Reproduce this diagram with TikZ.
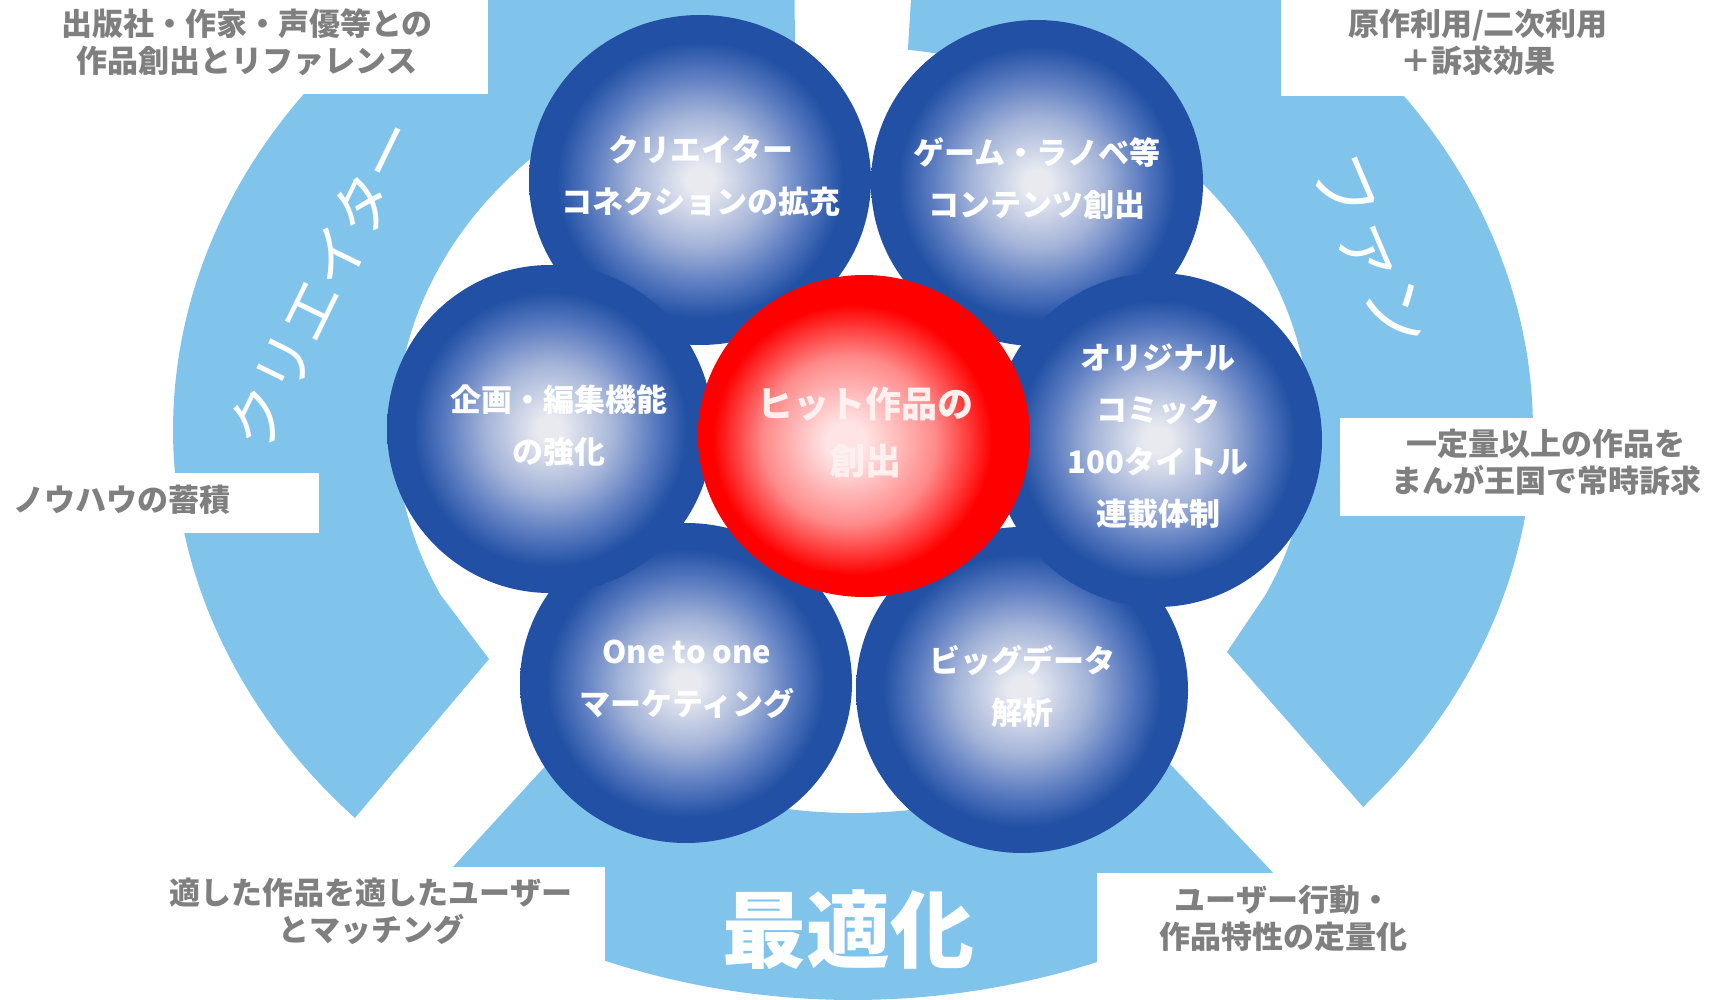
\documentclass[tikz,border=0pt]{standalone}
\usepackage{fontspec}
\setmainfont{Noto Sans CJK JP}
\definecolor{arcblue}{HTML}{80C4EC}
\definecolor{labelgray}{HTML}{7F7F7F}
\definecolor{bdark}{HTML}{2150A4}
\definecolor{bmid}{HTML}{5A7BC0}
\definecolor{blite}{HTML}{A3B3D8}
\definecolor{bcenter}{HTML}{E8EAF0}
\definecolor{rcenter}{HTML}{FFE4E4}
\definecolor{rmid}{HTML}{FF8A8A}
\definecolor{rdark}{HTML}{FF0000}
\definecolor{redtextcol}{HTML}{FFF0F0}
\pgfdeclareradialshading{bubble}{\pgfpoint{0bp}{0bp}}{color(0bp)=(bcenter); color(2bp)=(bcenter); color(10bp)=(blite); color(16bp)=(bmid); color(21bp)=(bdark); color(50bp)=(bdark)}
\pgfdeclareradialshading{redball}{\pgfpoint{-3bp}{-1bp}}{color(0bp)=(rcenter); color(3bp)=(rcenter); color(13bp)=(rmid); color(21bp)=(rdark); color(50bp)=(rdark)}
\begin{document}
\begin{tikzpicture}[x=1pt,y=-1pt,
  arcband/.style={fill=arcblue},
  labelbox/.style={fill=white},
  labeltext/.style={text=labelgray, font=\bfseries\fontsize{31}{37}\selectfont, align=center},
  bubbletext/.style={text=white, font=\bfseries\fontsize{31}{52}\selectfont, align=center},
  redtext/.style={text=redtextcol, font=\bfseries\fontsize{36}{57}\selectfont, align=center},
  arctext/.style={text=white, font=\fontsize{60}{60}\selectfont},
  bigtext/.style={text=white, font=\bfseries\fontsize{84}{84}\selectfont},
  blueball/.style={shading=bubble},
  redballstyle/.style={shading=redball}]
\useasboundingbox (0,0) rectangle (1719,1000);
\fill[white] (0,0) rectangle (1719,1000);
\clip (0,0) rectangle (1719,1000);

% arcs
\fill[arcband] plot[domain=265:137.1, samples=120] ({853+680*cos(\x)},{430+570*sin(\x)})
  -- (489,659)
  -- plot[domain=154.5:262.7, samples=120] ({853+457*cos(\x)},{430+383*sin(\x)}) -- cycle;
\fill[arcband] plot[domain=-84.4:41.4, samples=120] ({853+680*cos(\x)},{430+570*sin(\x)})
  -- (1227,652)
  -- plot[domain=25.5:-83.1, samples=120] ({853+457*cos(\x)},{430+383*sin(\x)}) -- cycle;
\fill[arcband] plot[domain=51.5:127.5, samples=100] ({853+680*cos(\x)},{430+570*sin(\x)})
  -- plot[domain=127.5:51.5, samples=100] ({853+457*cos(\x)},{430+383*sin(\x)}) -- cycle;

% label boxes
\fill[labelbox] (0,0) rectangle (488,94);
\fill[labelbox] (1281,0) rectangle (1719,96);
\fill[labelbox] (0,473) rectangle (319,533);
\fill[labelbox] (1340,418) rectangle (1719,516);
\fill[labelbox] (0,867) rectangle (605,1000);
\fill[labelbox] (1097,873) rectangle (1719,1000);

% label texts
\node[labeltext] (lab1) at (247,42) {出版社・作家・声優等との\\作品創出とリファレンス};
\node[labeltext] (lab2) at (1478,42) {原作利用/二次利用\\＋訴求効果};
\node[labeltext, anchor=west, inner sep=0pt] (lab3) at (13,500) {ノウハウの蓄積};
\node[labeltext] (lab4) at (1546,462) {一定量以上の作品を\\まんが王国で常時訴求};
\node[labeltext] (lab5) at (371,911) {適した作品を適したユーザー\\とマッチング};
\node[labeltext] (lab6) at (1283,918) {ユーザー行動・\\作品特性の定量化};

% arc texts
\node[arctext, rotate=64] (cre) at (323,284) {クリエイター};
\node[arctext, font=\fontsize{68}{68}\selectfont, rotate=-67] (fan) at (1370,252) {ファン};
\node[bigtext] (opt) at (848,930) {最適化};

% bubbles
\shade[blueball] (700,180) ellipse [x radius=171, y radius=165];
\shade[blueball] (1037,183) ellipse [x radius=166, y radius=163];
\shade[blueball] (686,683) ellipse [x radius=166, y radius=160];
\shade[blueball] (1022,690) ellipse [x radius=166, y radius=163];
\shade[blueball] (550,429) ellipse [x radius=163, y radius=164];
\shade[blueball] (1157,440) ellipse [x radius=165, y radius=167];
\shade[redballstyle] (864,436) ellipse [x radius=166, y radius=161];

% bubble texts
\node[bubbletext] (b1) at (701,176) {クリエイター\\コネクションの拡充};
\node[bubbletext] (b2) at (1037,179) {ゲーム・ラノベ等\\コンテンツ創出};
\node[bubbletext] (b3) at (559,426) {企画・編集機能\\の強化};
\node[bubbletext] (b5) at (1158,436) {オリジナル\\コミック\\100タイトル\\連載体制};
\node[bubbletext] (b6) at (687,679) {One to one\\マーケティング};
\node[bubbletext] (b7) at (1022,686) {ビッグデータ\\解析};
\node[redtext] (hit) at (865,432) {ヒット作品の\\創出};
\end{tikzpicture}
\end{document}
